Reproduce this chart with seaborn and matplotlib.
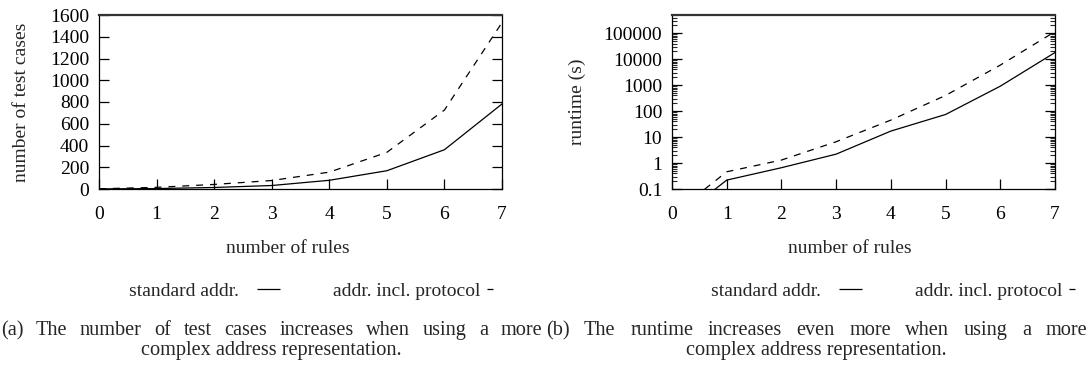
import numpy as np
import pandas as pd
import matplotlib
matplotlib.use("Agg")
import matplotlib.pyplot as plt
import seaborn as sns
from matplotlib.lines import Line2D
from matplotlib.ticker import FixedLocator, LogLocator, NullFormatter

# ---------------- data ----------------
rules = [0, 1, 2, 3, 4, 5, 6, 7]
tests_standard = [1, 4, 14, 32, 80, 168, 361, 782]
tests_protocol = [2, 15, 42, 78, 155, 337, 726, 1530]
runtime_standard = [0.005, 0.22, 0.66, 2.2, 17, 74, 910, 18000]
runtime_protocol = [0.01, 0.46, 1.3, 6.6, 45, 400, 5900, 115000]
series_names = ["standard addr.", "addr. incl. protocol"]
left_yticks = [0, 200, 400, 600, 800, 1000, 1200, 1400, 1600]
right_yticks = [0.1, 1, 10, 100, 1000, 10000, 100000]
right_yticklabels = ["0.1", "1", "10", "100", "1000", "10000", "100000"]
caption_line1 = [
    "(a) The number of test cases increases when using a more",
    "(b) The runtime increases even more when using a more",
]
caption_line2 = [
    "complex address representation.",
    "complex address representation.",
]

sns.set_style("white")
plt.rcParams["font.family"] = ["Liberation Serif", "DejaVu Serif"]
plt.rcParams["lines.scale_dashes"] = False
FS = 14
CFS = 14.6

df_tests = pd.DataFrame({
    "rules": rules * 2,
    "value": tests_standard + tests_protocol,
    "series": [series_names[0]] * len(rules) + [series_names[1]] * len(rules),
})
df_runtime = pd.DataFrame({
    "rules": rules * 2,
    "value": runtime_standard + runtime_protocol,
    "series": [series_names[0]] * len(rules) + [series_names[1]] * len(rules),
})

W, H = 1088, 368
fig = plt.figure(figsize=(W / 100, H / 100), dpi=100)
ax1 = fig.add_axes([99 / W, 1 - 189 / H, 403 / W, 174 / H])
ax2 = fig.add_axes([672 / W, 1 - 189 / H, 383 / W, 174 / H])

dash_map = {series_names[0]: "", series_names[1]: (5, 5)}
for ax, df in ((ax1, df_tests), (ax2, df_runtime)):
    sns.lineplot(data=df, x="rules", y="value", style="series", dashes=dash_map,
                 color="black", linewidth=0.9, legend=False, ax=ax)

# left axes
ax1.set_xlim(0, 7)
ax1.set_ylim(0, 1600)
ax1.set_yticks(left_yticks)
ax1.set_yticklabels([str(v) for v in left_yticks])

# right axes
ax2.set_yscale("log")
ax2.set_xlim(0, 7)
ax2.set_ylim(0.1, 10 ** 5.7)
ax2.yaxis.set_major_locator(FixedLocator(right_yticks))
ax2.set_yticklabels(right_yticklabels)
ax2.yaxis.set_minor_locator(LogLocator(base=10, subs=np.arange(2, 10), numticks=20))
ax2.yaxis.set_minor_formatter(NullFormatter())

for ax in (ax1, ax2):
    ax.set_xticks(rules)
    ax.set_xticklabels([str(r) for r in rules])
    ax.tick_params(axis="x", which="both", direction="in", length=7, width=0.9,
                   bottom=True, top=False, labelsize=FS, pad=12, colors="black")
    ax.tick_params(axis="y", which="major", direction="in", length=7, width=0.9,
                   left=True, right=True, labelsize=FS, pad=7, colors="black")
    ax.tick_params(axis="y", which="minor", direction="in", length=3.5, width=0.8,
                   left=True, right=True)
    for s in ax.spines.values():
        s.set_visible(True)
        s.set_color("black")
        s.set_linewidth(0.9)
    ax.spines["top"].set_linewidth(1.6)
    ax.spines["top"].set_color("#333333")
    ax.grid(False)
    ax.set_xlabel("number of rules", fontsize=FS)

ax1.set_ylabel("number of test cases", fontsize=FS)
ax2.set_ylabel("runtime (s)", fontsize=FS)
ax1.yaxis.set_label_coords((30 - 99) / 403, 0.5)
ax2.yaxis.set_label_coords((586 - 672) / 383, 0.5)
ax1.xaxis.set_label_coords((288 - 99) / 403, (189 - 240) / 174)
ax2.xaxis.set_label_coords((850 - 672) / 383, (189 - 240) / 174)

# legends (gnuplot style: text first, then sample)
PX = 0.72  # points per pixel at 100 dpi
for ax, cx in ((ax1, (325 - 99) / 403), (ax2, (907 - 672) / 383)):
    handles = [
        Line2D([], [], color="black", linewidth=0.9,
               linestyle=(23 * PX, (23 * PX, 11 * PX))),
        Line2D([], [], color="black", linewidth=0.9,
               linestyle=(0, (6 * PX, 80))),
    ]
    ax.legend(handles, series_names, loc="center", bbox_to_anchor=(cx, (189 - 291) / 174),
              ncol=2, markerfirst=False, frameon=False, fontsize=FS,
              handlelength=34 / 19.44, handletextpad=7 / 19.44, columnspacing=53 / 19.44)

# captions: first line justified, second centred
fig.canvas.draw()
renderer = fig.canvas.get_renderer()
spans = [(1, 542), (546, 1087)]
for line1, line2, (x0, x1) in zip(caption_line1, caption_line2, spans):
    words = line1.split(" ")
    texts = [fig.text(0.5, 1 - 335 / H, w, ha="left", va="baseline", fontsize=CFS)
             for w in words]
    widths = [t.get_window_extent(renderer=renderer).width for t in texts]
    gap = ((x1 - x0) - sum(widths)) / (len(words) - 1)
    x = x0
    for t, w in zip(texts, widths):
        t.set_x(x / W)
        x += w + gap
    fig.text((x0 + x1) / 2 / W, 1 - 355 / H, line2, ha="center", va="baseline", fontsize=CFS)

fig.savefig("out.png", dpi=100)
